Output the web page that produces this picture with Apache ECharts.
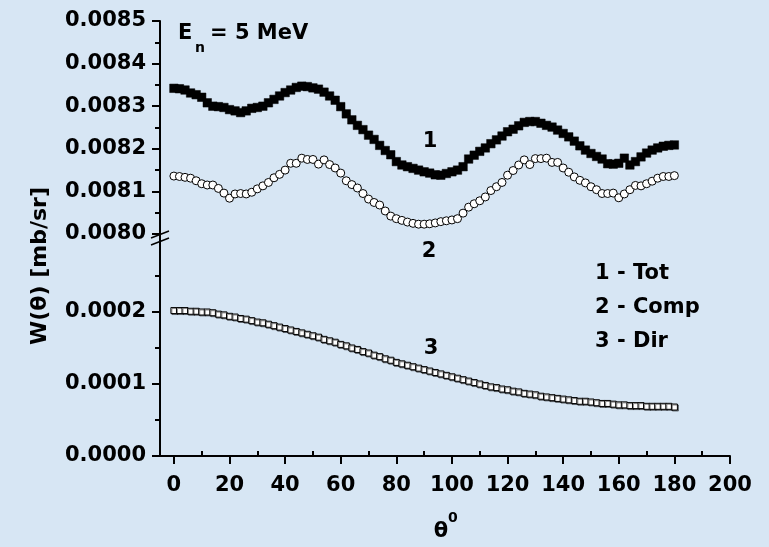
<!DOCTYPE html>
<html>
<head>
<meta charset="utf-8">
<script src="https://cdn.jsdelivr.net/npm/echarts@6.0.0/dist/echarts.min.js"></script>
<style>
  html, body { margin: 0; padding: 0; background: #d7e6f4; }
  #main { width: 769px; height: 547px; }
</style>
</head>
<body>
<div id="main"></div>
<script>
// angle in degrees, 2 degree steps
var theta = [
  0, 2, 4, 6, 8, 10, 12, 14, 16, 18, 20, 22, 24, 26, 28, 30, 32, 34, 36, 38,
  40, 42, 44, 46, 48, 50, 52, 54, 56, 58, 60, 62, 64, 66, 68, 70, 72, 74, 76, 78,
  80, 82, 84, 86, 88, 90, 92, 94, 96, 98, 100, 102, 104, 106, 108, 110, 112, 114, 116, 118,
  120, 122, 124, 126, 128, 130, 132, 134, 136, 138, 140, 142, 144, 146, 148, 150, 152, 154, 156, 158,
  160, 162, 164, 166, 168, 170, 172, 174, 176, 178, 180
];
// 1 - Tot
var tot = [
  0.008342, 0.008341, 0.008338, 0.008331, 0.008327, 0.008321, 0.008308, 0.008300, 0.008299, 0.008297,
  0.008292, 0.008289, 0.008285, 0.008289, 0.008295, 0.008297, 0.008300, 0.008308, 0.008316, 0.008324,
  0.008332, 0.008338, 0.008344, 0.008347, 0.008346, 0.008343, 0.008340, 0.008333, 0.008324, 0.008314,
  0.008299, 0.008282, 0.008268, 0.008255, 0.008245, 0.008232, 0.008222, 0.008208, 0.008196, 0.008186,
  0.008170, 0.008162, 0.008158, 0.008154, 0.008150, 0.008146, 0.008143, 0.008139, 0.008138, 0.008142,
  0.008146, 0.008150, 0.008158, 0.008176, 0.008185, 0.008194, 0.008202, 0.008212, 0.008221, 0.008230,
  0.008240, 0.008246, 0.008254, 0.008262, 0.008264, 0.008264, 0.008260, 0.008255, 0.008251, 0.008244,
  0.008236, 0.008228, 0.008218, 0.008207, 0.008197, 0.008189, 0.008182, 0.008176, 0.008165, 0.008164,
  0.008166, 0.008178, 0.008162, 0.008170, 0.008181, 0.008190, 0.008197, 0.008202, 0.008206, 0.008208,
  0.008209
];
// 2 - Comp
var comp = [
  0.008136, 0.008135, 0.008133, 0.008131, 0.008125, 0.008118, 0.008115, 0.008115, 0.008107, 0.008096,
  0.008084, 0.008094, 0.008095, 0.008094, 0.008098, 0.008106, 0.008113, 0.008121, 0.008132, 0.008140,
  0.008150, 0.008166, 0.008166, 0.008178, 0.008175, 0.008175, 0.008164, 0.008174, 0.008163, 0.008155,
  0.008143, 0.008125, 0.008116, 0.008108, 0.008095, 0.008082, 0.008074, 0.008068, 0.008054, 0.008042,
  0.008036, 0.008032, 0.008028, 0.008025, 0.008023, 0.008023, 0.008024, 0.008026, 0.008029, 0.008031,
  0.008033, 0.008036, 0.008049, 0.008063, 0.008071, 0.008078, 0.008087, 0.008102, 0.008111, 0.008121,
  0.008138, 0.008149, 0.008162, 0.008174, 0.008163, 0.008177, 0.008177, 0.008178, 0.008168, 0.008168,
  0.008155, 0.008145, 0.008134, 0.008126, 0.008120, 0.008111, 0.008104, 0.008095, 0.008095, 0.008096,
  0.008085, 0.008094, 0.008104, 0.008114, 0.008113, 0.008118, 0.008124, 0.008131, 0.008135, 0.008135,
  0.008137
];
// 3 - Dir
var dir = [
  0.000202, 0.000202, 0.000202, 0.000201, 0.000201, 0.000200, 0.000200, 0.000199, 0.000197, 0.000196,
  0.000194, 0.000193, 0.000191, 0.000190, 0.000188, 0.000186, 0.000185, 0.000183, 0.000181, 0.000179,
  0.000177, 0.000175, 0.000173, 0.000171, 0.000169, 0.000167, 0.000165, 0.000162, 0.000160, 0.000158,
  0.000155, 0.000153, 0.000150, 0.000148, 0.000145, 0.000143, 0.000140, 0.000138, 0.000135, 0.000133,
  0.000130, 0.000128, 0.000126, 0.000124, 0.000122, 0.000120, 0.000118, 0.000116, 0.000114, 0.000112,
  0.000110, 0.000108, 0.000106, 0.000104, 0.000102, 0.000100, 0.000098, 0.000096, 0.000095, 0.000093,
  0.000092, 0.000090, 0.000089, 0.000087, 0.000086, 0.000085, 0.000083, 0.000082, 0.000081, 0.000080,
  0.000079, 0.000078, 0.000077, 0.000076, 0.000076, 0.000075, 0.000074, 0.000073, 0.000073, 0.000072,
  0.000071, 0.000071, 0.000070, 0.000070, 0.000070, 0.000069, 0.000069, 0.000069, 0.000069, 0.000069,
  0.000068
];
var xTicks = [0, 20, 40, 60, 80, 100, 120, 140, 160, 180, 200];
var xMinorTicks = [10, 30, 50, 70, 90, 110, 130, 150, 170, 190];
var lowerTicks = [0, 0.0001, 0.0002];

function pairs(ys) {
  return theta.map(function (t, i) { return [t, ys[i]]; });
}

var font = 'DejaVu Sans';
var black = { color: '#000', width: 2 };
var tickLabel = { color: '#000', fontFamily: font, fontWeight: 'bold', fontSize: 21 };

function txt(x, y, s, opts) {
  var st = { text: s, fill: '#000', fontFamily: font, fontWeight: 'bold', fontSize: 21,
             align: 'left', verticalAlign: 'middle' };
  for (var k in (opts || {})) st[k] = opts[k];
  return { type: 'text', x: x, y: y, style: st, z: 10 };
}

var chart = echarts.init(document.getElementById('main'));
var option = {
  animation: false,
  backgroundColor: '#d7e6f4',
  grid: [
    { left: 160, top: 21, width: 570, height: 213, outerBoundsMode: 'none' },
    { left: 160, top: 240, width: 570, height: 216, outerBoundsMode: 'none' }
  ],
  xAxis: [
    { gridIndex: 0, type: 'value', min: -5, max: 200, show: false },
    {
      gridIndex: 1, type: 'value', min: -5, max: 200,
      splitLine: { show: false },
      axisLine: { show: true, onZero: false, lineStyle: black },
      axisTick: { show: true, customValues: xTicks, length: 8, lineStyle: black },
      axisLabel: Object.assign({ customValues: xTicks, margin: 19 }, tickLabel)
    },
    {
      gridIndex: 1, type: 'value', min: -5, max: 200,
      splitLine: { show: false },
      axisLine: { show: false },
      axisLabel: { show: false },
      axisTick: { show: true, customValues: xMinorTicks, length: 5, lineStyle: black }
    }
  ],
  yAxis: [
    {
      gridIndex: 0, type: 'value', min: 0.0080, max: 0.0085, interval: 0.0001,
      splitLine: { show: false },
      axisLine: { show: true, onZero: false, lineStyle: black },
      axisTick: { show: true, length: 8, lineStyle: black },
      minorTick: { show: true, splitNumber: 2, length: 5, lineStyle: black },
      axisLabel: Object.assign({ margin: 14, formatter: function (v) { return v.toFixed(4); } }, tickLabel)
    },
    {
      gridIndex: 1, type: 'value', min: 0, max: 0.0003, interval: 0.0001,
      splitLine: { show: false },
      axisLine: { show: true, onZero: false, lineStyle: black },
      axisTick: { show: true, customValues: lowerTicks, length: 8, lineStyle: black },
      minorTick: { show: true, splitNumber: 2, length: 5, lineStyle: black },
      axisLabel: Object.assign({ customValues: lowerTicks, margin: 14,
        formatter: function (v) { return v.toFixed(4); } }, tickLabel)
    }
  ],
  series: [
    {
      name: 'Tot', type: 'scatter', xAxisIndex: 0, yAxisIndex: 0,
      data: pairs(tot), symbol: 'rect', symbolSize: 8.5,
      itemStyle: { color: '#000', borderColor: '#000', borderWidth: 0.5, opacity: 1 }
    },
    {
      name: 'Comp', type: 'scatter', xAxisIndex: 0, yAxisIndex: 0,
      data: pairs(comp), symbol: 'circle', symbolSize: 8,
      itemStyle: { color: '#fff', borderColor: '#000', borderWidth: 1, opacity: 1 }
    },
    {
      name: 'Dir', type: 'scatter', xAxisIndex: 1, yAxisIndex: 1,
      data: pairs(dir), symbol: 'rect', symbolSize: 6,
      itemStyle: { color: '#fff', borderColor: '#000', borderWidth: 1, opacity: 1,
        shadowColor: 'rgba(0,0,0,0.45)', shadowOffsetX: 1, shadowOffsetY: 1, shadowBlur: 0 }
    }
  ],
  graphic: [
    // axis break
    { type: 'line', shape: { x1: 160, y1: 233, x2: 160, y2: 241 }, style: { stroke: '#000', lineWidth: 2 } },
    { type: 'line', shape: { x1: 151, y1: 238, x2: 169, y2: 231 }, style: { stroke: '#000', lineWidth: 1.5 } },
    { type: 'line', shape: { x1: 151, y1: 245, x2: 169, y2: 238 }, style: { stroke: '#000', lineWidth: 1.5 } },
    // energy label
    txt(178, 34, 'E'),
    txt(195, 48, 'n', { fontSize: 14 }),
    txt(210, 34, '= 5 MeV'),
    // curve numbers
    txt(430, 142, '1', { align: 'center' }),
    txt(429, 252, '2', { align: 'center' }),
    txt(431, 349, '3', { align: 'center' }),
    // key
    txt(595, 274, '1 - Tot'),
    txt(595, 308, '2 - Comp'),
    txt(595, 342, '3 - Dir'),
    // axis titles
    {
      type: 'text', x: 40, y: 266, rotation: Math.PI / 2, z: 10,
      style: { text: 'W(θ) [mb/sr]', fill: '#000', fontFamily: font, fontWeight: 'bold',
               fontSize: 22, align: 'center', verticalAlign: 'middle' }
    },
    txt(441, 532, 'θ', { align: 'center' }),
    txt(448, 518, '0', { fontSize: 14 })
  ]
};
chart.setOption(option);
window.addEventListener('resize', function () { chart.resize(); });
</script>
</body>
</html>
